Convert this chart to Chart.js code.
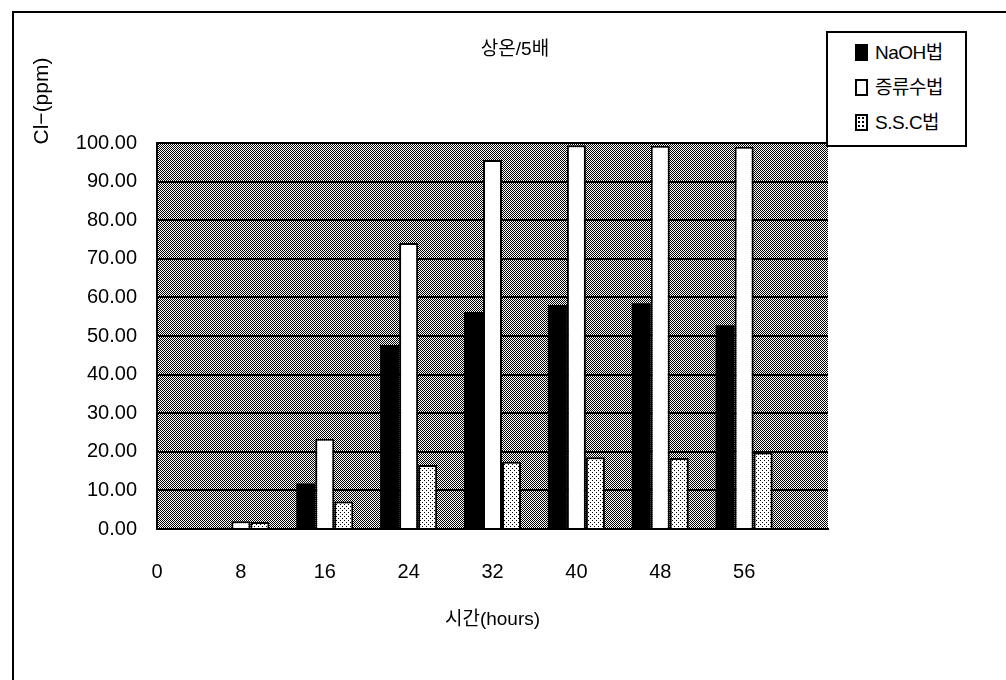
<!DOCTYPE html>
<html>
<head>
<meta charset="utf-8">
<script src="https://cdn.jsdelivr.net/npm/chart.js@4.4.1/dist/chart.umd.min.js"></script>
<style>
  html, body { margin: 0; padding: 0; background: #fff; }
  #wrap { position: relative; width: 1006px; height: 680px; overflow: hidden; }
  #frame {
    position: absolute; left: 12px; top: 11px; width: 1100px; height: 800px;
    border-top: 2px solid #000; border-left: 2px solid #000;
  }
  #legend {
    position: absolute; left: 826px; top: 31px; width: 137px; height: 112px;
    border: 2px solid #000; background: #fff;
    font-family: 'Liberation Sans', 'Noto Sans CJK KR', sans-serif; font-size: 19px; color: #000;
  }
  .item { position: absolute; left: 47px; height: 22px; line-height: 22px; white-space: nowrap; letter-spacing: -0.5px; }
  .mark { position: absolute; left: -20px; top: 2px; width: 13px; height: 17px; box-sizing: border-box; }
</style>
</head>
<body>
<div id="wrap">
  <div id="frame"></div>
  <canvas id="chart" width="1006" height="680"></canvas>
  <div id="legend"></div>
</div>
<script>
const hours = ['0', '8', '16', '24', '32', '40', '48', '56', '64'];
const naohValues = [0, 0.3, 11.8, 47.7, 56.2, 58.0, 58.5, 52.8];
const waterValues = [0, 2.0, 23.4, 74.1, 95.6, 99.4, 99.3, 99.0];
const sscValues = [0, 1.8, 7.1, 16.6, 17.4, 18.6, 18.4, 19.8];
const yTicks = [0, 10, 20, 30, 40, 50, 60, 70, 80, 90, 100];

const chartTitle = '상온/5배';
const yTitle = 'Cl−(ppm)';
const xTitle = '시간(hours)';
const seriesNames = ['NaOH법', '증류수법', 'S.S.C법'];

const FONT = "'Liberation Sans', 'Noto Sans CJK KR', sans-serif";

// dithered gray for the plot area, like the scanned excel fill
function makePattern(size, isDark) {
  const c = document.createElement('canvas');
  c.width = size; c.height = size;
  const g = c.getContext('2d');
  g.fillStyle = '#fff';
  g.fillRect(0, 0, size, size);
  g.fillStyle = '#000';
  for (let y = 0; y < size; y++) {
    for (let x = 0; x < size; x++) {
      if (isDark(x, y)) g.fillRect(x, y, 1, 1);
    }
  }
  return g.createPattern(c, 'repeat');
}

const plotFill = makePattern(4, (x, y) => (x + y) % 2 === 0);
const sscFill = makePattern(4, (x, y) => (x === 0 && y === 0) || (x === 2 && y === 2));

const plotBackground = {
  id: 'plotBackground',
  beforeDraw(chart) {
    const { ctx, chartArea: a } = chart;
    ctx.save();
    ctx.fillStyle = plotFill;
    ctx.fillRect(a.left, a.top, a.right - a.left, a.bottom - a.top);
    ctx.restore();
  }
};

// titles sit where excel put them, not where chart.js would
const titles = {
  id: 'titles',
  afterDraw(chart) {
    const { ctx, chartArea: a } = chart;
    ctx.save();
    ctx.fillStyle = '#000';
    ctx.textAlign = 'center';
    ctx.textBaseline = 'middle';
    ctx.font = '19px ' + FONT;
    ctx.fillText(chartTitle, 515, 50);
    ctx.fillText(xTitle, (a.left + a.right) / 2, 620);
    ctx.font = '21px ' + FONT;
    ctx.translate(42, 101);
    ctx.rotate(-Math.PI / 2);
    ctx.fillText(yTitle, 0, 0);
    ctx.restore();
  }
};

new Chart(document.getElementById('chart'), {
  type: 'bar',
  data: {
    labels: hours,
    datasets: [
      { label: seriesNames[0], data: naohValues, backgroundColor: '#000', borderColor: '#000', borderWidth: 0 },
      { label: seriesNames[1], data: waterValues, backgroundColor: '#fff', borderColor: '#000', borderWidth: 2 },
      { label: seriesNames[2], data: sscValues, backgroundColor: sscFill, borderColor: '#000', borderWidth: 2 }
    ]
  },
  options: {
    responsive: false,
    animation: false,
    layout: { padding: { left: 0, right: 178, top: 143, bottom: 0 } },
    datasets: { bar: { categoryPercentage: 0.68, barPercentage: 1 } },
    plugins: {
      legend: { display: false },
      tooltip: { enabled: false }
    },
    scales: {
      x: {
        offset: false,
        grid: { display: false, drawTicks: false },
        border: { display: true, color: '#000', width: 2 },
        ticks: {
          color: '#000', padding: 31, maxRotation: 0, autoSkip: false,
          font: { family: FONT, size: 20 },
          callback: (v, i) => (i === hours.length - 1 ? '' : hours[i])
        },
        afterFit: s => { s.height = 151; }
      },
      y: {
        min: yTicks[0],
        max: yTicks[yTicks.length - 1],
        grid: { color: '#000', lineWidth: 2, drawTicks: false },
        border: { display: true, color: '#000', width: 2 },
        ticks: {
          color: '#000', padding: 20, stepSize: 10,
          font: { family: FONT, size: 20 },
          callback: v => Number(v).toFixed(2)
        },
        afterFit: s => { s.width = 157; }
      }
    }
  },
  plugins: [plotBackground, titles]
});

// legend as a boxed list to the right of the plot
const legend = document.getElementById('legend');
const markStyles = [
  'background:#000;',
  'background:#fff;border:2px solid #000;',
  'background:#fff radial-gradient(#000 0.8px, transparent 1px) 0 0/4px 4px;border:2px solid #000;'
];
seriesNames.forEach((name, i) => {
  const item = document.createElement('div');
  item.className = 'item';
  item.style.top = (9 + i * 35) + 'px';
  item.innerHTML = `<span class="mark" style="${markStyles[i]}"></span>${name}`;
  legend.appendChild(item);
});
</script>
</body>
</html>
